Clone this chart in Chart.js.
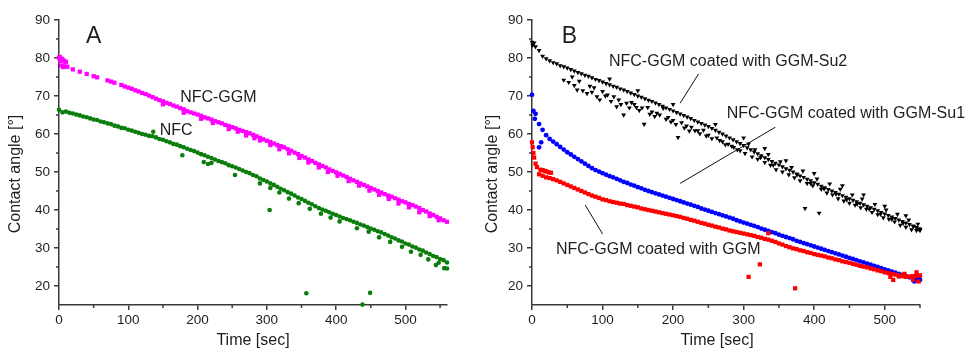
<!DOCTYPE html>
<html>
<head>
<meta charset="utf-8">
<script src="https://cdn.jsdelivr.net/npm/chart.js@4.4.0/dist/chart.umd.min.js"></script>
<style>
  html, body { margin: 0; padding: 0; background: #fff; }
  #wrap { position: relative; width: 970px; height: 351px; }
  #boxA { position: absolute; left: 0; top: 0; width: 480px; height: 351px; }
  #boxB { position: absolute; left: 480px; top: 0; width: 490px; height: 351px; }
</style>
</head>
<body>
<div id="wrap">
  <div id="boxA"><canvas id="chartA" width="480" height="351"></canvas></div>
  <div id="boxB"><canvas id="chartB" width="490" height="351"></canvas></div>
</div>
<script>
// readings every 5 s
const timeStep = 5;

// panel A
const nfc = [
  66.4, 65.7, 65.9, 65.6, 65.4, 65.1, 64.9, 64.6, 64.4,
  64.1, 63.8, 63.7, 63.3, 63.1, 62.8, 62.6, 62.2, 62.0, 61.6,
  61.5, 61.1, 60.9, 60.6, 60.3, 60.0, 59.8, 59.5, 59.4, 59.1,
  58.7, 58.5, 58.1, 57.8, 57.4, 57.2, 56.8, 56.5, 56.1,
  55.8, 55.5, 55.1, 54.7, 54.4, 54.0, 53.7, 53.3, 52.9, 52.6,
  52.3, 51.8, 51.5, 51.2, 50.8, 50.4, 50.0, 49.7,
  49.2, 48.9, 48.3, 47.9, 47.5, 47.0, 46.6, 46.1, 45.6, 45.2,
  44.7, 44.3, 43.8, 43.3, 42.9, 42.4, 41.9, 41.5, 41.0,
  40.5, 40.1, 39.8, 39.4, 39.0, 38.7, 38.3, 37.9, 37.6, 37.3,
  36.9, 36.6, 36.2, 35.9, 35.5, 35.1, 34.8, 34.4, 34.1, 33.7,
  33.3, 32.8, 32.5, 32.0, 31.7, 31.2, 30.9, 30.4, 30.1,
  29.6, 29.3, 28.8, 28.4, 27.9, 27.6, 27.1, 26.8, 26.2
];
const nfcStray = [
  [136, 60.6], [178, 54.4], [209, 52.6], [215, 52.1], [220, 52.4], [254, 49.2],
  [290, 47.0], [304, 40.0], [305, 45.8], [318, 44.6], [332, 43.0], [346, 41.8],
  [357, 18.1], [362, 40.3], [378, 39.0], [392, 38.0], [405, 37.0], [430, 35.2],
  [438, 15.1], [447, 34.3], [449, 18.2], [462, 32.8], [478, 31.6], [495, 30.3],
  [508, 29.0], [522, 28.2], [533, 27.0], [544, 25.5], [548, 26.1], [556, 24.7], [560, 24.6]
];
const nfcGgm = [
  80.0, 79.6, 79.0, null, 77.0, null, 76.4, null, 75.8,
  null, 75.2, 74.9, null, null, 74.1, 73.8, 73.5, null, 72.9,
  72.5, 72.2, 71.9, 71.5, 71.2, 70.8, 70.5, 70.1, 69.7, 69.3,
  68.9, 68.6, 68.2, 67.9, 67.5, 67.2, 66.8, 66.5, 66.0,
  65.7, 65.4, 65.1, 64.8, 64.4, 64.1, 63.8, 63.4, 63.1, 62.8,
  62.4, 62.1, 61.8, 61.5, 61.1, 60.8, 60.5, 60.2,
  59.8, 59.4, 59.0, 58.6, 58.2, 57.9, 57.5, 57.1, 56.8, 56.5,
  56.0, 55.6, 55.1, 54.7, 54.2, 53.8, 53.3, 52.9, 52.4,
  52.0, 51.6, 51.2, 50.7, 50.3, 49.9, 49.5, 49.1, 48.7, 48.2,
  47.8, 47.4, 47.0, 46.6, 46.2, 45.8, 45.4, 45.0, 44.6, 44.2,
  43.8, 43.5, 43.1, 42.7, 42.3, 42.0, 41.6, 41.3, 40.9,
  40.5, 40.0, 39.6, 39.1, 38.7, 38.2, 37.8, 37.3, 36.9
];
const nfcGgmStray = [
  [1, 80.3], [2, 79.2], [3, 78.0], [4, 79.8], [6, 77.6], [7, 79.3], [8, 77.8], [9, 78.9], [12, 77.7],
  [150, 67.8], [180, 65.6], [205, 64.0], [222, 62.9], [245, 61.3], [258, 60.6], [270, 59.6],
  [282, 58.9], [290, 58.3], [305, 57.1], [318, 56.0], [332, 54.9], [347, 53.7], [360, 52.5],
  [375, 51.2], [388, 50.0], [402, 49.0], [418, 47.6], [433, 46.4], [448, 45.1], [462, 44.0],
  [476, 42.9], [490, 41.7], [505, 40.7], [520, 39.4], [535, 38.4], [548, 37.3]
];

// panel B
const su2 = [
  84.2, 83.0, 82.0, 80.5, 79.8, 79.3, 78.8, 78.5, 78.0, 77.7,
  77.4, 77.0, 76.6, 76.2, 75.9, 75.5, 75.2, 74.8, 74.4, 74.1,
  73.7, 73.3, 73.0, 72.6, 72.3, 71.9, 71.6, 71.2, 70.8, 70.4,
  70.0, 69.7, 69.3, 68.9, 68.6, 68.2, 67.8, 67.3, 66.9, 66.5,
  66.1, 65.7, 65.3, 64.9, 64.5, 64.1, 63.6, 63.2, 62.8, 62.4,
  62.0, 61.5, 61.0, 60.5, 60.0, 59.5, 59.0, 58.5, 58.0, 57.5,
  57.0, 56.4, 55.9, 55.3, 54.8, 54.3, 53.8, 53.3, 52.8, 52.3,
  51.9, 51.4, 50.9, 50.5, 50.0, 49.5, 49.0, 48.6, 48.1, 47.7,
  47.2, 46.8, 46.3, 45.9, 45.4, 45.0, 44.6, 44.2, 43.8, 43.4,
  43.0, 42.6, 42.2, 41.8, 41.4, 41.0, 40.6, 40.2, 39.8, 39.4,
  39.0, 38.6, 38.2, 37.8, 37.4, 37.0, 36.6, 36.2, 35.8, 35.4, 35.0
];
const su2Stray = [
  [1, 83.4], [3, 84.0], [45, 74.2], [52, 73.6], [57, 75.0], [60, 72.8], [64, 71.6], [67, 73.9],
  [72, 71.4], [78, 70.7], [82, 72.6], [85, 71.0], [88, 72.2], [92, 69.8], [96, 69.0], [100, 71.2],
  [104, 70.0], [107, 70.3], [110, 74.5], [112, 68.6], [116, 69.8], [120, 67.2], [123, 69.0],
  [126, 67.8], [130, 65.0], [134, 68.1], [138, 66.9], [141, 68.3], [145, 67.8], [148, 67.0],
  [150, 71.4], [152, 66.2], [156, 66.9], [159, 62.6], [164, 67.0], [167, 65.2], [170, 65.8],
  [174, 64.6], [177, 65.5], [181, 65.0], [186, 66.8], [190, 63.9], [193, 64.4], [197, 63.2],
  [200, 63.6], [200, 67.8], [204, 62.5], [207, 59.1], [212, 63.0], [216, 61.6], [219, 62.1],
  [223, 60.8], [226, 61.8], [231, 60.9], [235, 60.9], [238, 60.1], [243, 61.0], [247, 59.5],
  [250, 59.7], [255, 58.8], [260, 62.5], [262, 59.0], [266, 58.3], [270, 58.0], [274, 57.2],
  [278, 57.3], [283, 56.8], [286, 56.5], [291, 55.9], [295, 55.6], [300, 59.0], [302, 54.9],
  [307, 57.4], [312, 54.0], [316, 55.9], [320, 53.4], [324, 53.8], [330, 52.5], [330, 56.2],
  [335, 54.6], [338, 51.8], [342, 51.8], [346, 50.6], [352, 52.7], [355, 50.0], [360, 53.0],
  [364, 49.3], [368, 51.2], [372, 48.5], [376, 49.3], [380, 47.7], [384, 50.3], [387, 40.4],
  [390, 47.0], [395, 47.0], [398, 46.4], [400, 49.6], [404, 48.2], [407, 39.2], [410, 45.5],
  [414, 45.6], [418, 44.5], [422, 46.9], [426, 44.0], [431, 44.2], [434, 43.0], [437, 45.5],
  [440, 46.4], [442, 42.4], [446, 42.7], [450, 41.8], [454, 44.0], [458, 41.3], [461, 41.6],
  [466, 40.6], [468, 42.9], [470, 44.0], [474, 40.2], [478, 40.3], [482, 39.4], [486, 41.5],
  [490, 38.8], [494, 38.9], [498, 38.0], [500, 41.0], [502, 40.0], [506, 37.6], [510, 37.6],
  [514, 36.9], [518, 38.9], [522, 36.0], [526, 36.5], [530, 35.5], [530, 38.5], [534, 37.4],
  [538, 34.8], [541, 35.7], [545, 34.6], [547, 36.3], [548, 35.0], [550, 34.6]
];
const su1 = [
  70.3, 65.3, 62.6, 61.1, 59.7, 58.7, 58.0, 57.3, 56.6, 55.9,
  55.2, 54.6, 54.0, 53.4, 52.8, 52.2, 51.6, 51.0, 50.5, 50.1,
  49.7, 49.3, 48.9, 48.6, 48.2, 47.8, 47.4, 47.1, 46.7, 46.4,
  46.0, 45.7, 45.3, 45.0, 44.7, 44.4, 44.1, 43.8, 43.5, 43.2,
  42.9, 42.6, 42.3, 42.0, 41.7, 41.4, 41.1, 40.8, 40.4, 40.1,
  39.8, 39.5, 39.2, 38.9, 38.6, 38.3, 38.0, 37.7, 37.3, 37.0,
  36.7, 36.4, 36.1, 35.8, 35.5, 35.1, 34.8, 34.5, 34.2, 33.9,
  33.5, 33.2, 32.9, 32.6, 32.3, 31.9, 31.6, 31.3, 31.0, 30.7,
  30.4, 30.1, 29.8, 29.5, 29.2, 28.9, 28.6, 28.3, 28.0, 27.7,
  27.4, 27.1, 26.8, 26.5, 26.2, 25.9, 25.6, 25.3, 25.0, 24.7,
  24.4, 24.1, 23.8, 23.5, 23.2, 22.9, 22.6, 22.3, 22.0, 21.8, 21.6
];
const su1Stray = [[2, 66.1], [4, 64.0], [10, 56.5], [13, 57.8], [542, 21.2], [548, 22.2]];
const ggm = [
  57.8, 52.2, 49.4, 49.0, 48.6, 48.4, 48.1, 47.8, 47.4, 47.0,
  46.6, 46.2, 45.8, 45.4, 45.0, 44.6, 44.2, 43.8, 43.5, 43.2,
  42.8, 42.6, 42.3, 42.1, 41.9, 41.7, 41.6, 41.3, 41.1, 40.9,
  40.7, 40.4, 40.2, 40.0, 39.8, 39.6, 39.4, 39.2, 39.0, 38.8,
  38.6, 38.4, 38.2, 37.9, 37.7, 37.4, 37.2, 36.9, 36.6, 36.4,
  36.1, 35.9, 35.6, 35.4, 35.1, 34.9, 34.6, 34.4, 34.2, 34.0,
  33.8, 33.6, 33.4, 33.2, 32.9, 32.7, 32.4, 32.2, 31.9, 31.6,
  31.2, 30.9, 30.5, 30.2, 29.9, 29.7, 29.4, 29.2, 28.9, 28.7,
  28.4, 28.2, 28.0, 27.8, 27.5, 27.3, 27.0, 26.8, 26.5, 26.3,
  26.1, 25.8, 25.6, 25.3, 25.1, 24.9, 24.6, 24.4, 24.1, 23.9,
  23.6, 23.4, 23.2, 23.0, 22.8, 22.6, 22.4, 22.5, 22.6, 22.7, 22.8
];
const ggmStray = [
  [1, 56.5], [2, 55.0], [3, 53.8], [7, 51.3], [12, 50.6], [15, 50.5], [18, 50.3], [21, 50.1],
  [24, 49.9], [27, 49.8], [307, 22.4], [323, 25.7], [335, 33.9], [373, 19.4],
  [508, 22.4], [512, 21.6], [520, 22.5], [528, 23.2], [540, 21.6], [545, 23.6], [548, 21.2]
];

// axes
const yTicks = [20, 30, 40, 50, 60, 70, 80, 90];
const yMinor = [25, 35, 45, 55, 65, 75, 85];
const xTicks = [0, 100, 200, 300, 400, 500];
const xMinor = [50, 150, 250, 350, 450, 550];

const axisColor = '#3a3a3a';
const textColor = '#1e1e1e';
const family = 'Arial, "Liberation Sans", sans-serif';

function toPoints(values, stray) {
  const pts = [];
  values.forEach((v, i) => { if (v !== null) pts.push({ x: i * timeStep, y: v }); });
  stray.forEach(([x, y]) => pts.push({ x, y }));
  return pts;
}

function series(values, stray, color, style, radius, rotation) {
  return {
    data: toPoints(values, stray),
    backgroundColor: color,
    borderWidth: 0,
    pointStyle: style,
    pointRadius: radius,
    pointRotation: rotation || 0,
    clip: false
  };
}

// titles, panel letters, labels, leader lines and minor ticks
const decor = {
  id: 'decor',
  afterDraw(chart, args, o) {
    const { ctx, chartArea: ca, scales: { x, y } } = chart;
    ctx.save();
    ctx.strokeStyle = axisColor;
    ctx.lineWidth = 1.5;
    ctx.beginPath();
    xMinor.forEach(v => {
      if (v > x.max) return;
      const px = x.getPixelForValue(v);
      ctx.moveTo(px, ca.bottom); ctx.lineTo(px, ca.bottom + 3);
    });
    yMinor.forEach(v => {
      const py = y.getPixelForValue(v);
      ctx.moveTo(ca.left, py); ctx.lineTo(ca.left - 3, py);
    });
    ctx.stroke();

    ctx.fillStyle = textColor;
    ctx.textAlign = 'center';
    ctx.textBaseline = 'middle';
    ctx.font = '16px ' + family;
    ctx.fillText('Time [sec]', o.xTitle[0], o.xTitle[1]);
    ctx.save();
    ctx.translate(o.yTitle[0], o.yTitle[1]);
    ctx.rotate(-Math.PI / 2);
    ctx.fillText('Contact angle [°]', 0, 0);
    ctx.restore();

    o.notes.forEach(n => ctx.fillText(n.text, x.getPixelForValue(n.x), y.getPixelForValue(n.y)));
    ctx.strokeStyle = '#111';
    ctx.lineWidth = 1;
    o.leaders.forEach(([a, b]) => {
      ctx.beginPath();
      ctx.moveTo(x.getPixelForValue(a[0]), y.getPixelForValue(a[1]));
      ctx.lineTo(x.getPixelForValue(b[0]), y.getPixelForValue(b[1]));
      ctx.stroke();
    });

    ctx.font = '23px ' + family;
    ctx.fillText(o.letter.text, x.getPixelForValue(o.letter.x), y.getPixelForValue(o.letter.y));
    ctx.restore();
  }
};

function makeChart(id, datasets, xMax, yWidth, padRight, decorOpts) {
  return new Chart(document.getElementById(id), {
    type: 'scatter',
    data: { datasets },
    options: {
      responsive: false,
      animation: false,
      layout: { padding: { left: 0, top: 20, right: padRight, bottom: 0 } },
      plugins: { legend: { display: false }, tooltip: { enabled: false }, decor: decorOpts },
      scales: {
        x: {
          type: 'linear', min: 0, max: xMax,
          afterBuildTicks: s => { s.ticks = xTicks.map(v => ({ value: v })); },
          afterFit: s => { s.height = 46; },
          border: { display: true, color: axisColor, width: 1.5 },
          grid: { display: true, drawOnChartArea: false, drawTicks: true, tickLength: 5, color: axisColor, lineWidth: 1.5 },
          ticks: { color: textColor, font: { family, size: 13.5 }, padding: 2, maxRotation: 0 }
        },
        y: {
          type: 'linear', min: 15, max: 90,
          afterBuildTicks: s => { s.ticks = yTicks.map(v => ({ value: v })); },
          afterFit: s => { s.width = yWidth; },
          border: { display: true, color: axisColor, width: 1.5 },
          grid: { display: true, drawOnChartArea: false, drawTicks: true, tickLength: 5, color: axisColor, lineWidth: 1.5 },
          ticks: { color: textColor, font: { family, size: 13.5 }, padding: 4 }
        }
      }
    },
    plugins: [decor]
  });
}

makeChart('chartA', [
  series(nfcGgm, nfcGgmStray, '#ff00ff', 'rect', 3),
  series(nfc, nfcStray, '#0a7d0a', 'circle', 2.3)
], 560, 59, 33, {
  xTitle: [253, 341], yTitle: [16, 174],
  letter: { text: 'A', x: 50, y: 85.5 },
  notes: [{ text: 'NFC-GGM', x: 230, y: 69.7 }, { text: 'NFC', x: 169, y: 61 }],
  leaders: []
});

makeChart('chartB', [
  series(ggm, ggmStray, '#ff0000', 'rect', 3),
  series(su1, su1Stray, '#0000ff', 'circle', 2.4),
  series(su2, su2Stray, '#000000', 'triangle', 2.8, 180)
], 550, 52, 50, {
  xTitle: [237, 341], yTitle: [13, 174],
  letter: { text: 'B', x: 53, y: 85.5 },
  notes: [
    { text: 'NFC-GGM coated with GGM-Su2', x: 278, y: 79 },
    { text: 'NFC-GGM coated with GGM-Su1', x: 445, y: 65.4 },
    { text: 'NFC-GGM coated with GGM', x: 179, y: 29.5 }
  ],
  leaders: [
    [[236, 75.8], [210, 68.1]],
    [[345, 61.8], [210, 47.0]],
    [[75.5, 41.3], [100, 33.7]]
  ]
});
</script>
</body>
</html>
